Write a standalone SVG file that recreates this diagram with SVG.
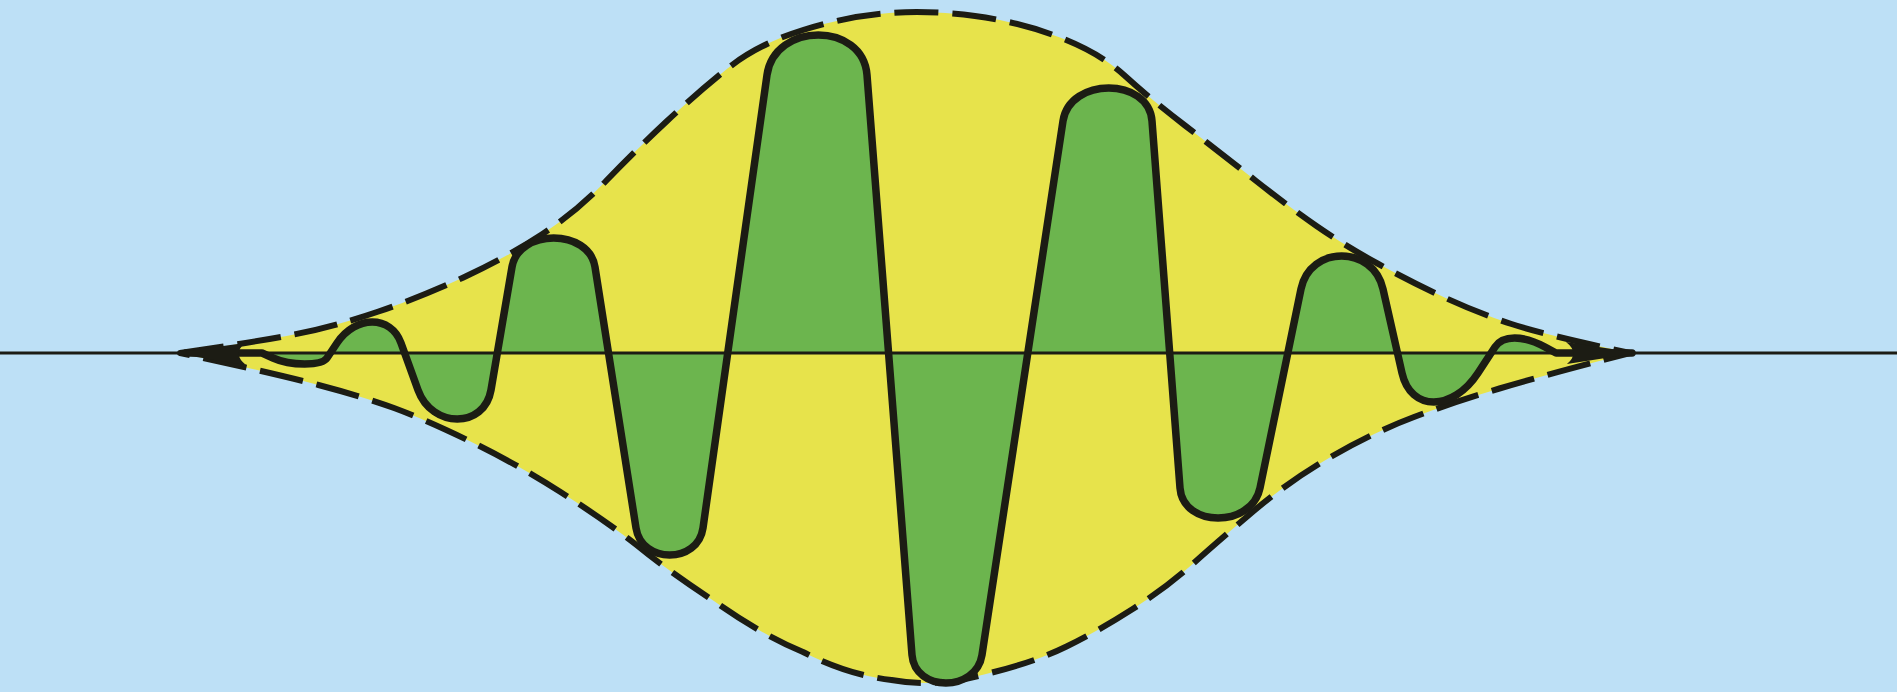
<svg xmlns="http://www.w3.org/2000/svg" xmlns:xlink="http://www.w3.org/1999/xlink" width="1897" height="692" viewBox="0 0 1897 692">
<style>
.env{fill:#e7e34b;stroke:#1c1c14;stroke-width:6;stroke-dasharray:44 14;stroke-linejoin:round}
.wfill{fill:#6cb54e;stroke:none}
.wline{fill:none;stroke:#1c1c14;stroke-width:7.5;stroke-linejoin:round;stroke-linecap:round}
.axis{stroke:#1c1c14;stroke-width:3}
.cusp{fill:#1c1c14}
</style>
<defs>
<path id="wave" d="M186,353 L262,353 L273,358 C290.6,366 321.7,366 327,358 L337,343 C355.7,315 390.9,315 401,343 L418,390 C432,428.7 484.4,428.7 491,390 L512,267 C518.6,228.3 588.9,228.3 595,267 L636,528 C641.6,564 697.9,564 703,528 L767,75 C774.5,21.7 862.9,21.7 867,75 L912,655 C914.9,692.3 976.1,692.3 982,655 L1063,121 C1069.7,77 1148.6,77 1152,121 L1180,488 C1183.1,528 1251.7,528 1260,488 L1301,289 C1310.1,245 1373,245 1383,289 L1402,373 C1410.7,411.7 1452.7,411.7 1478,373 L1495,347 C1502.8,335 1523,335 1545,347 L1556,353 L1632,353"/>
</defs>
<rect x="0" y="0" width="1897" height="692" fill="#bde0f6"/>
<g id="envelope">
<path class="env" d="M180,353 Q255,342 294,334.5 Q333,327 378.5,311.5 Q424,296 466.5,276 Q509,256 542.5,234 Q576,212 606,181 Q636,150 666.5,121.5 Q697,93 727.5,68.5 Q758,44 803,30 Q848,16 889,13 Q930,10 975,16 Q1020,22 1060,37.5 Q1100,53 1124,75 Q1148,97 1185,125.5 Q1222,154 1255.5,180.5 Q1289,207 1316.5,226 Q1344,245 1377.5,263.5 Q1411,282 1444.5,297.5 Q1478,313 1511.5,324 Q1545,335 1630,353 Q1545,375 1499.5,388.5 Q1454,402 1414,417 Q1374,432 1331.5,456.5 Q1289,481 1252.5,512 Q1216,543 1191.5,565 Q1167,587 1133.5,608.5 Q1100,630 1066.5,646.5 Q1033,663 984,674.5 Q935,688 891.5,680 Q848,675 803,652 Q760,634 712.5,600 Q667,570 636.5,545 Q606,521 560.5,492 Q515,463 469.5,441 Q424,419 394,408 Q364,397 318.5,385 Q273,373 180,353 Z"/>
</g>
<g id="wave-fill"><use xlink:href="#wave" class="wfill"/></g>
<g id="axis"><line class="axis" x1="0" y1="353" x2="1897" y2="353"/></g>
<g id="wave-line"><use xlink:href="#wave" class="wline"/></g>
<g id="cusps">
<path class="cusp" d="M172,353 L245,343 Q232,354 246,365 Z"/>
<path class="cusp" d="M1638,353 L1566,342 Q1580,353 1567,364 Z"/>
</g>
</svg>
